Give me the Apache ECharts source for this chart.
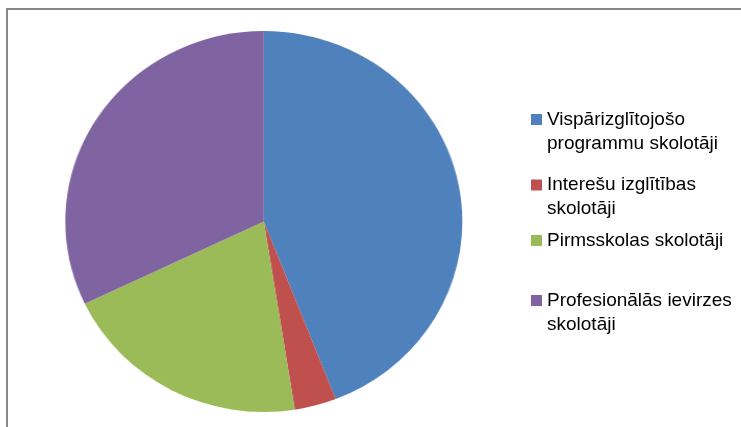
<!DOCTYPE html>
<html>
<head>
<meta charset="UTF-8">
<script src="https://cdn.jsdelivr.net/npm/echarts@6/dist/echarts.min.js"></script>
<style>
  html, body { margin: 0; padding: 0; background: #fff; }
  #wrap { position: relative; width: 741px; height: 427px; overflow: hidden; }
  #pie, #legend { position: absolute; left: 0; top: 0; width: 741px; height: 427px; }
  /* excel pie is a bit wider than tall */
  #pie { transform: scaleX(1.042); transform-origin: 263.8px 221.5px; }
</style>
</head>
<body>
<div id="wrap">
  <div id="pie"></div>
  <div id="legend"></div>
</div>
<script>
var categories = [
    'Vispārizglītojošo\nprogrammu skolotāji',
    'Interešu izglītības\nskolotāji',
    'Pirmsskolas skolotāji',
    'Profesionālās ievirzes\nskolotāji'
];
var values = [44.1, 3.4, 20.4, 32.1];
var colors = ['#4F81BD', '#C0504D', '#9BBB59', '#8064A2'];

var pieData = categories.map(function (c, i) {
    return { name: c, value: values[i], itemStyle: { color: colors[i] } };
});

var pieChart = echarts.init(document.getElementById('pie'), null, { renderer: 'canvas' });
pieChart.setOption({
    animation: false,
    series: [{
        type: 'pie',
        center: [263.8, 221.5],
        radius: 190.5,
        startAngle: 90,
        clockwise: true,
        label: { show: false },
        labelLine: { show: false },
        emphasis: { disabled: true },
        itemStyle: { borderWidth: 0 },
        data: pieData
    }]
});

// legend drawn unscaled on top; icon path keeps square on first text line
var twoLineIcon = 'path://M0,0L11,0L11,11L0,11Z M0,35L0,35';
var iconTops = [114, 179.5, 235, 295];
var legends = categories.map(function (c, i) {
    var twoLines = c.indexOf('\n') >= 0;
    return {
        orient: 'vertical',
        left: 531,
        top: iconTops[i] - 6.5,
        padding: 0,
        itemWidth: 11,
        itemHeight: twoLines ? 35 : 11,
        icon: twoLines ? twoLineIcon : 'rect',
        selectedMode: false,
        textStyle: { fontFamily: 'Liberation Sans', fontSize: 19, lineHeight: 24, color: '#000' },
        data: [c]
    };
});

var legendChart = echarts.init(document.getElementById('legend'), null, { renderer: 'canvas' });
legendChart.setOption({
    animation: false,
    legend: legends,
    graphic: [{
        type: 'rect',
        shape: { x: 7, y: 9, width: 900, height: 600 },
        style: { fill: 'none', stroke: '#888', lineWidth: 2 }
    }],
    series: [{
        type: 'pie',
        radius: 0,
        silent: true,
        label: { show: false },
        labelLine: { show: false },
        data: pieData
    }]
});
</script>
</body>
</html>
